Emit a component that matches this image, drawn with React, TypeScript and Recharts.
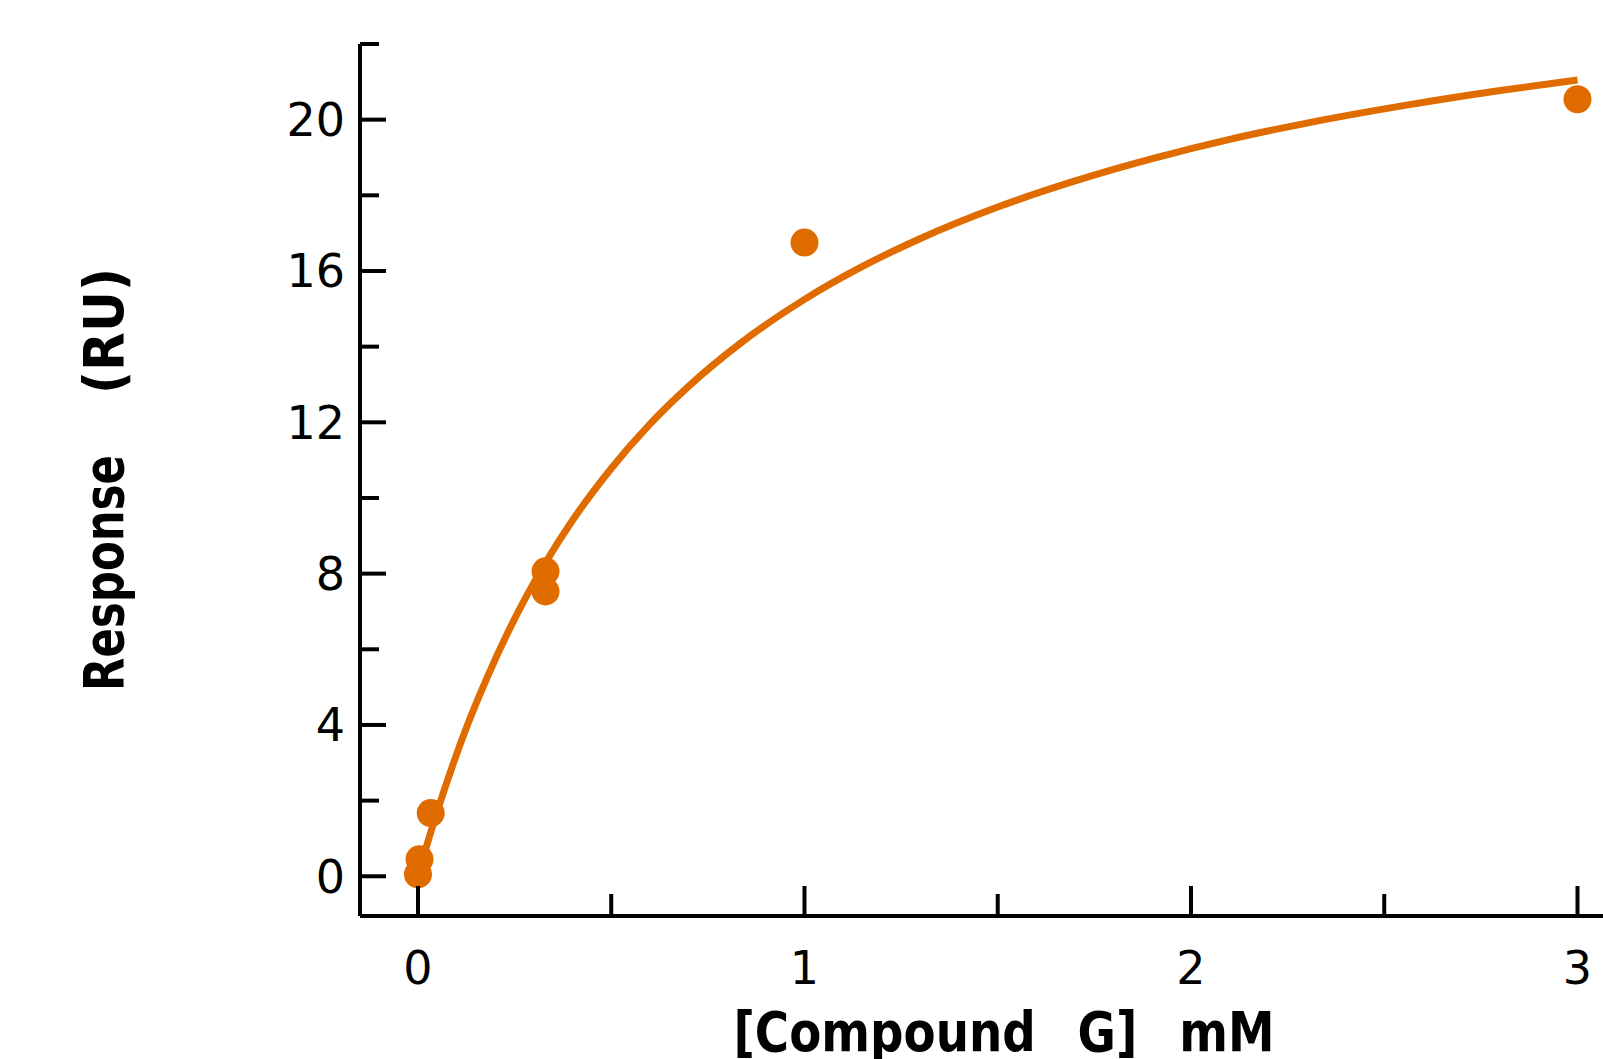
import React from 'react';
import { ComposedChart, Line, Scatter, XAxis, YAxis, Label } from 'recharts';

// measured points
const concX = [0, 0.004, 0.033, 0.33, 0.33, 1, 3];
const respY = [0.05, 0.45, 1.67, 8.06, 7.53, 16.75, 20.54];

// fitted curve
const fitX = [0, 0.02, 0.05, 0.09, 0.13, 0.18, 0.23, 0.28, 0.333, 0.4, 0.5, 0.6, 0.7, 0.833, 1.0, 1.15, 1.3, 1.5, 1.7, 1.9, 2.1, 2.3, 2.55, 2.8, 3.0];
const fitY = [0, 0.72, 1.72, 2.94, 4.05, 5.28, 6.39, 7.39, 8.34, 9.41, 10.78, 11.95, 12.95, 14.08, 15.25, 16.12, 16.86, 17.69, 18.38, 18.97, 19.48, 19.91, 20.37, 20.77, 21.05];

const xTicks = [0, 0.5, 1, 1.5, 2, 2.5, 3];
const yTicks = [0, 2, 4, 6, 8, 10, 12, 14, 16, 18, 20, 22];

const ORANGE = '#E06C00';
const TICK_FONT = '"DejaVu Sans", Verdana, sans-serif';

const points = concX.map((x, i) => ({ x, y: respY[i] }));
const curve = fitX.map((x, i) => ({ x, y: fitY[i] }));

const XTick = (props: any) => {
  const { x, y, payload } = props;
  const v = payload.value;
  const major = Number.isInteger(v);
  return (
    <g>
      <line x1={x} x2={x} y1={y} y2={y - (major ? 30 : 22)} stroke="#000" strokeWidth={4} />
      {major && (
        <text x={x} y={y + 68} textAnchor="middle" fontSize={46} fontFamily={TICK_FONT} fill="#000">
          {v}
        </text>
      )}
    </g>
  );
};

const YTick = (props: any) => {
  const { x, y, payload } = props;
  const v = payload.value;
  const major = v % 4 === 0;
  return (
    <g>
      <line x1={x} x2={x + (major ? 26 : 19)} y1={y} y2={y} stroke="#000" strokeWidth={4} />
      {major && (
        <text x={x - 15} y={y + 16.5} textAnchor="end" fontSize={46} fontFamily={TICK_FONT} fill="#000">
          {v}
        </text>
      )}
    </g>
  );
};

const XTitle = (props: any) => {
  const vb = props.viewBox;
  return (
    <text
      x={vb.x + 644}
      y={vb.y + 135}
      textAnchor="middle"
      fontSize={56}
      fontWeight="bold"
      fontFamily={TICK_FONT}
      textLength={541}
      lengthAdjust="spacingAndGlyphs"
      style={{ whiteSpace: 'pre' }}
      fill="#000"
    >
      {'[Compound  \u2009G]  \u2009mM'}
    </text>
  );
};

// two parts so each keeps the width seen in the reference
const YTitle = (props: any) => {
  const vb = props.viewBox;
  const cx = 123;
  const mid = vb.y + vb.height / 2;
  const start1 = mid + 211;
  const start2 = mid - 86;
  const common = {
    fontSize: 56,
    fontWeight: 'bold' as const,
    fontFamily: TICK_FONT,
    lengthAdjust: 'spacingAndGlyphs',
    fill: '#000',
  };
  return (
    <g>
      <text x={cx} y={start1} transform={`rotate(-90, ${cx}, ${start1})`} textLength={236} {...common}>
        Response
      </text>
      <text x={cx} y={start2} transform={`rotate(-90, ${cx}, ${start2})`} textLength={126} {...common}>
        (RU)
      </text>
    </g>
  );
};

export default function App() {
  return (
    <div style={{ position: 'absolute', left: 0, top: 0, background: '#fff' }}>
      <ComposedChart width={1603} height={1059} margin={{ top: 44, right: 0, bottom: 0, left: 0 }}>
        <XAxis
          type="number"
          dataKey="x"
          domain={[-0.15, 3.066]}
          ticks={xTicks}
          allowDataOverflow
          height={143}
          tickSize={0}
          tickMargin={0}
          tickLine={false}
          axisLine={{ stroke: '#000', strokeWidth: 4 }}
          tick={<XTick />}
          interval={0}
        >
          <Label content={<XTitle />} />
        </XAxis>
        <YAxis
          type="number"
          dataKey="y"
          domain={[-1.05, 22]}
          ticks={yTicks}
          allowDataOverflow
          width={360}
          tickSize={0}
          tickMargin={0}
          tickLine={false}
          axisLine={{ stroke: '#000', strokeWidth: 4 }}
          tick={<YTick />}
          interval={0}
        >
          <Label content={<YTitle />} />
        </YAxis>
        <Line
          data={curve}
          dataKey="y"
          type="monotone"
          stroke={ORANGE}
          strokeWidth={7}
          dot={false}
          activeDot={false}
          isAnimationActive={false}
        />
        <Scatter
          data={points}
          dataKey="y"
          fill={ORANGE}
          isAnimationActive={false}
          shape={(p: any) => <circle cx={p.cx} cy={p.cy} r={14} fill={ORANGE} />}
        />
      </ComposedChart>
    </div>
  );
}
